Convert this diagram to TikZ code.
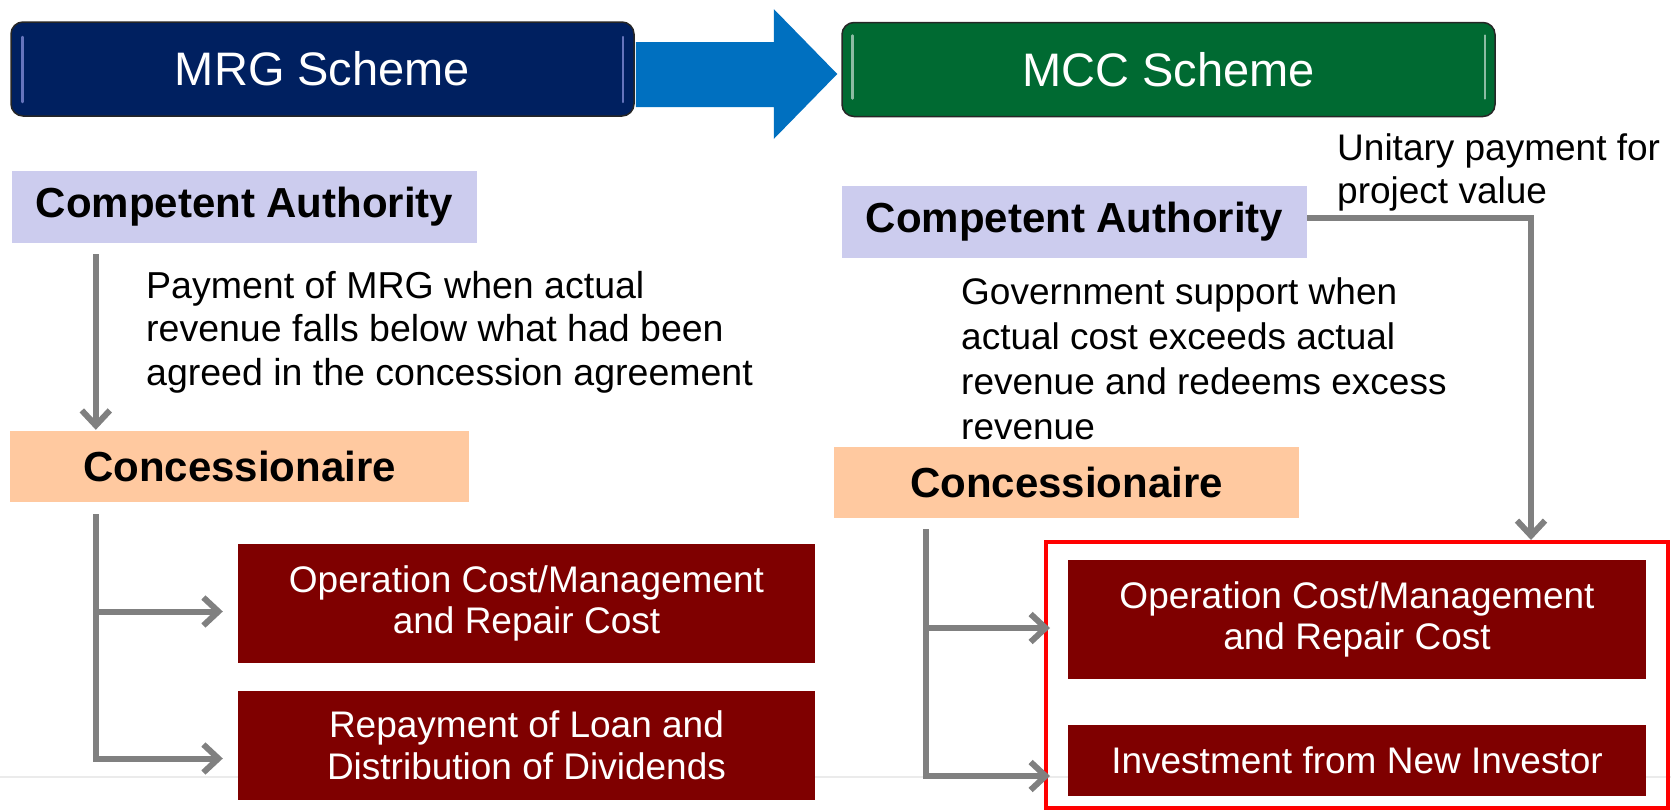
\documentclass[tikz,border=0pt]{standalone}
\usepackage{fontspec}
\setmainfont{Liberation Sans}
\usetikzlibrary{arrows.meta,calc}

\definecolor{mrgblue}{HTML}{002060}
\definecolor{mccgreen}{HTML}{006A32}
\definecolor{arrowblue}{HTML}{0070C0}
\definecolor{authfill}{HTML}{CCCCEE}
\definecolor{concfill}{HTML}{FFC9A0}
\definecolor{costred}{HTML}{7F0000}
\definecolor{flowgray}{HTML}{808080}

\begin{document}
\begin{tikzpicture}[
	x=1pt, y=-1pt,
	scheme/.style={
		draw=black!85, line width=1.5pt, rounded corners=12pt,
		text=white, inner sep=0pt, minimum height=94pt,
		font=\fontsize{47}{56}\selectfont
	},
	party/.style={
		inner sep=0pt, minimum height=72pt,
		font=\bfseries\fontsize{42}{50}\selectfont
	},
	note/.style={anchor=west, align=left, inner sep=0pt},
	cost/.style={
		fill=costred, text=white, inner sep=0pt, align=center,
		font=\fontsize{37}{41.5}\selectfont
	},
	flow/.style={draw=flowgray, line width=6pt},
	flowarrow/.style={flow, -{Straight Barb[length=15pt, width=28pt]}}
]
	\useasboundingbox (0, 0) rectangle (1671, 809);
	\draw[black!8, line width=2pt] (0, 777) -- (1671, 777);

	% Headers
	\node[scheme, fill=mrgblue, minimum width=623pt] (mrg) at (322.5, 69) {MRG Scheme};
	\node[scheme, fill=mccgreen, minimum width=653pt] (mcc) at (1168.5, 69.5) {MCC Scheme};
	\draw[blue!30!mrgblue!60!white, line width=2.5pt, line cap=round]
		($(mrg.west)+(12,-32)$) -- ($(mrg.west)+(12,33)$)
		($(mrg.east)+(-12,-32)$) -- ($(mrg.east)+(-12,33)$);
	\draw[mccgreen!45!white, line width=2.5pt, line cap=round]
		($(mcc.west)+(11,-34)$) -- ($(mcc.west)+(11,29)$)
		($(mcc.east)+(-11,-34)$) -- ($(mcc.east)+(-11,29)$);
	\fill[arrowblue] ($(mrg.east)+(1,-27)$) -- ++(138,0) -- ++(0,-33)
		-- ($(mcc.west)+(-4,4.5)$) -- ($(mrg.east)+(139,70)$) -- ++(0,-32)
		-- ($(mrg.east)+(1,38)$) -- cycle;

	% MRG side
	\node[party, fill=authfill, minimum width=465pt] (caL) at (244.5, 207) {Competent Authority};
	\node[note, font=\fontsize{37.5}{43.5}\selectfont] (noteL) at (146, 332)
		{Payment of MRG when actual\\revenue falls below what had been\\agreed in the concession agreement};
	\node[party, fill=concfill, minimum width=459pt, minimum height=71pt] (conL) at (239.5, 466.5) {Concessionaire};
	\node[cost, minimum width=577pt, minimum height=119pt] (rL1) at (526.5, 603.5)
		{Operation Cost/Management\\and Repair Cost};
	\node[cost, minimum width=577pt, minimum height=109pt] (rL2) at (526.5, 745.5)
		{Repayment of Loan and\\Distribution of Dividends};

	\draw[flowarrow] ($(caL.south west)+(84,11)$) -- ($(conL.north west)+(86,-1)$);
	\coordinate (stemL) at ($(conL.south west)+(86,12)$);
	\coordinate (tipL1) at ($(rL1.west)+(-15,8)$);
	\coordinate (tipL2) at ($(rL2.west)+(-15,13)$);
	\draw[flowarrow] (stemL) |- (tipL2);
	\draw[flowarrow] (stemL |- tipL1) -- (tipL1);

	% MCC side
	\node[party, fill=authfill, minimum width=465pt] (caR) at (1074.5, 222) {Competent Authority};
	\node[note, font=\fontsize{37}{43}\selectfont] (noteU) at (1337, 172)
		{Unitary payment for\\project value};
	\node[note, font=\fontsize{37}{45}\selectfont] (noteR) at (961, 359)
		{Government support when\\actual cost exceeds actual\\revenue and redeems excess\\revenue};
	\node[party, fill=concfill, minimum width=465pt, minimum height=71pt] (conR) at (1066.5, 482.5) {Concessionaire};
	\node[draw=red, line width=4pt, inner sep=0pt, minimum width=622pt, minimum height=266pt] (frame) at (1357, 675) {};
	\node[cost, minimum width=578pt, minimum height=119pt] (rR1) at (1357, 619.5)
		{Operation Cost/Management\\and Repair Cost};
	\node[cost, minimum width=578pt, minimum height=71pt] (rR2) at (1357, 760.5)
		{Investment from New Investor};

	\draw[flowarrow] ($(caR.east)+(0,-4)$) -| ($(frame.north)+(174,0)$);
	\coordinate (stemR) at ($(conR.south west)+(92,11)$);
	\coordinate (tipR1) at ($(frame.west |- rR1.west)+(6,8.5)$);
	\coordinate (tipR2) at ($(frame.west |- rR2.west)+(6,15.5)$);
	\draw[flowarrow] (stemR) |- (tipR2);
	\draw[flowarrow] (stemR |- tipR1) -- (tipR1);
\end{tikzpicture}
\end{document}
